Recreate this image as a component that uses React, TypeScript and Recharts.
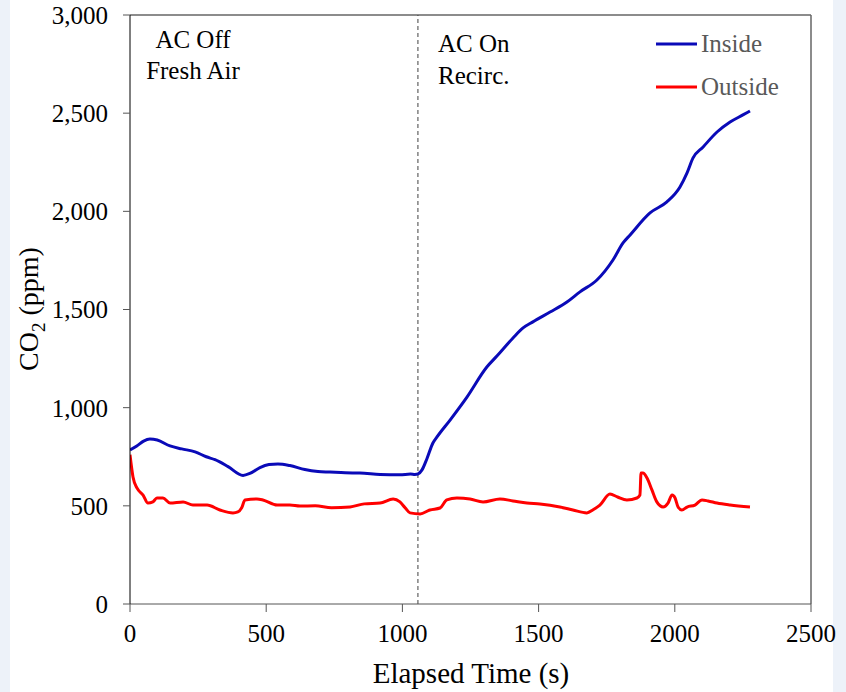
import React from "react";
import { LineChart, Line, XAxis, YAxis, ReferenceLine } from "recharts";

const insideTime = [0, 25, 50, 73, 100, 147, 190, 239, 280, 312, 360, 415, 440, 477, 510, 543, 587, 642, 690, 734, 790, 844, 918, 991, 1030, 1046, 1057, 1072, 1090, 1112, 1127, 1175, 1237, 1310, 1347, 1406, 1443, 1479, 1542, 1604, 1652, 1714, 1773, 1810, 1836, 1909, 1971, 2019, 2045, 2067, 2104, 2155, 2203, 2250, 2276];
const insideCO2 = [785, 805, 830, 840, 835, 805, 790, 775, 750, 735, 700, 655, 665, 695, 710, 713, 705, 685, 675, 672, 668, 667, 660, 658, 662, 660, 662, 683, 740, 820, 851, 937, 1054, 1207, 1263, 1355, 1406, 1437, 1487, 1538, 1590, 1650, 1752, 1839, 1880, 1992, 2048, 2124, 2196, 2272, 2328, 2404, 2455, 2491, 2511];

const outsideTime = [0, 11, 26, 48, 66, 84, 99, 121, 147, 195, 231, 283, 330, 378, 396, 410, 422, 466, 488, 540, 587, 624, 680, 740, 808, 860, 918, 966, 991, 1010, 1028, 1065, 1101, 1138, 1163, 1200, 1248, 1296, 1358, 1406, 1457, 1505, 1578, 1626, 1677, 1700, 1725, 1762, 1790, 1824, 1861, 1872, 1876, 1883, 1898, 1916, 1934, 1957, 1975, 1990, 2001, 2012, 2026, 2045, 2074, 2100, 2122, 2155, 2203, 2276];
const outsideCO2 = [760, 647, 590, 555, 514, 520, 540, 540, 514, 520, 504, 504, 479, 464, 469, 490, 530, 535, 530, 504, 504, 499, 500, 490, 494, 510, 514, 535, 520, 490, 464, 459, 479, 489, 530, 540, 535, 520, 535, 525, 514, 509, 494, 479, 464, 480, 504, 560, 545, 530, 540, 555, 667, 667, 642, 581, 520, 494, 514, 555, 540, 494, 479, 494, 504, 530, 525, 514, 504, 494];

const xTicks = [0, 500, 1000, 1500, 2000, 2500];
const yTicks = [0, 500, 1000, 1500, 2000, 2500, 3000];
const switchTime = 1057;

const insideData = insideTime.map((t, i) => ({ t, v: insideCO2[i] }));
const outsideData = outsideTime.map((t, i) => ({ t, v: outsideCO2[i] }));

const FONT = '"Liberation Serif", "Times New Roman", serif';

export default function App() {
  return (
    <div style={{ position: "absolute", left: 0, top: 0, width: 846, height: 692, background: "#edf2f9", overflow: "hidden" }}>
      <div style={{ position: "absolute", left: 10, top: 0, width: 823, height: 692, background: "#ffffff" }} />
      <div style={{ position: "absolute", left: 0, top: 0 }}>
        <LineChart width={846} height={692} margin={{ top: 15, right: 35, left: 0, bottom: 0 }}>
          <XAxis
            type="number"
            dataKey="t"
            domain={[0, 2500]}
            ticks={xTicks}
            height={88}
            tickSize={8}
            tickMargin={12}
            stroke="#555555"
            tick={{ fill: "#000000", fontSize: 25, fontFamily: FONT }}
            allowDataOverflow
          />
          <YAxis
            type="number"
            dataKey="v"
            domain={[0, 3000]}
            ticks={yTicks}
            width={130}
            tickSize={7}
            tickMargin={15}
            stroke="#000000"
            tickFormatter={(v: number) => v.toLocaleString("en-US")}
            tick={{ fill: "#000000", fontSize: 25, fontFamily: FONT }}
            axisLine={{ stroke: "#000000" }}
            tickLine={{ stroke: "#555555" }}
          />
          <ReferenceLine y={3000} stroke="#666666" strokeWidth={1.5} />
          <ReferenceLine x={2500} stroke="#666666" strokeWidth={1.5} />
          <ReferenceLine x={switchTime} stroke="#404040" strokeDasharray="4 3" strokeWidth={1} />
          <Line data={insideData} dataKey="v" type="monotone" stroke="#0a0ab8" strokeWidth={3} dot={false} isAnimationActive={false} />
          <Line data={outsideData} dataKey="v" type="monotone" stroke="#ff0000" strokeWidth={3} dot={false} isAnimationActive={false} />
        </LineChart>
      </div>
      <svg width={846} height={692} style={{ position: "absolute", left: 0, top: 0, pointerEvents: "none" }} fontFamily={FONT}>
        <text x={193} y={48} fontSize={25} textAnchor="middle" fill="#000">AC Off</text>
        <text x={193} y={79} fontSize={25} textAnchor="middle" fill="#000">Fresh Air</text>
        <text x={438} y={52} fontSize={25} fill="#000">AC On</text>
        <text x={438} y={84} fontSize={25} fill="#000">Recirc.</text>
        <line x1={656} x2={697} y1={44} y2={44} stroke="#0a0ab8" strokeWidth={3} />
        <text x={701} y={52} fontSize={25} fill="#595959">Inside</text>
        <line x1={656} x2={697} y1={87} y2={87} stroke="#ff0000" strokeWidth={3} />
        <text x={701} y={95} fontSize={25} fill="#595959">Outside</text>
        <text x={471} y={683} fontSize={29} textAnchor="middle" fill="#000">Elapsed Time (s)</text>
        <text transform="translate(38,309) rotate(-90)" fontSize={28} textAnchor="middle" fill="#000">
          CO<tspan fontSize={19} dy={7}>2</tspan><tspan dy={-7}> (ppm)</tspan>
        </text>
      </svg>
    </div>
  );
}
